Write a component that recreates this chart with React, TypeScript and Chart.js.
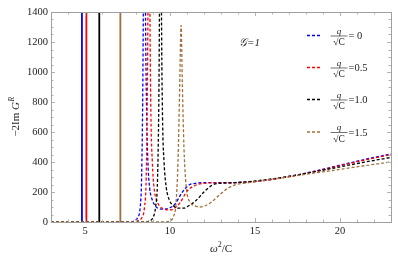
import React, { useEffect, useRef } from 'react';
import { Chart, registerables } from 'chart.js';
Chart.register(...registerables);

const seriesLabels = ['= 0', '=0.5', '=1.0', '=1.5'];
const seriesColors = ['#0000ff', '#ff0000', '#000000', '#a0703c'];
const spikeX = [4.82, 5.08, 5.84, 7.08];

const blueX = [3, 7.6, 7.9, 8.1, 8.25, 8.33, 8.4, 8.45, 8.5, 8.56, 8.63, 8.7, 8.8, 8.95, 9.15, 9.4, 9.7, 10.0, 10.3, 10.7, 11.1, 11.5, 12.0, 13.8, 23];
const blueY = [0, 1, 8, 30, 100, 300, 900, 1800, 3000, 1400, 700, 400, 230, 150, 105, 88, 85, 95, 120, 195, 245, 258, 262, 263, 453];

const redX = [3, 7.8, 8.1, 8.35, 8.5, 8.6, 8.67, 8.72, 8.76, 8.82, 8.88, 8.96, 9.06, 9.2, 9.4, 9.65, 9.95, 10.25, 10.6, 11.0, 11.5, 12.0, 12.5, 13.8, 23];
const redY = [0, 1, 8, 30, 100, 300, 900, 1800, 3000, 1400, 700, 400, 230, 150, 105, 87, 80, 90, 130, 205, 245, 258, 261, 262, 448];

const blackX = [3, 8.5, 8.8, 9.0, 9.15, 9.27, 9.35, 9.4, 9.45, 9.5, 9.56, 9.65, 9.78, 9.95, 10.2, 10.5, 10.8, 11.1, 11.5, 12.0, 12.4, 12.8, 13.8, 23];
const blackY = [0, 1, 8, 30, 100, 300, 900, 1800, 3000, 1400, 700, 400, 230, 150, 108, 92, 92, 108, 140, 200, 240, 257, 262, 430];

const brownX = [3, 9.7, 10.0, 10.2, 10.35, 10.47, 10.57, 10.65, 10.73, 10.82, 10.92, 11.0, 11.2, 11.45, 11.75, 12.0, 12.4, 12.9, 13.4, 13.9, 14.5, 23];
const brownY = [0, 1, 8, 35, 120, 400, 900, 1310, 900, 500, 280, 190, 130, 108, 100, 105, 130, 180, 225, 250, 260, 401];

const seriesX = [blueX, redX, blackX, brownX];
const seriesY = [blueY, redY, blackY, brownY];

const xTickValues = [5, 10, 15, 20];
const xMin = 3, xMax = 23, yMin = 0, yMax = 1400, yStep = 200;

const SERIF = '"Liberation Serif", "DejaVu Serif", serif';

const framePlugin = {
  id: 'frame',
  afterDraw(chart: any) {
    const { ctx, chartArea: a, scales } = chart;
    const xs = scales.x, ys = scales.y;
    ctx.save();
    // ticks
    ctx.strokeStyle = '#b4b4b4';
    ctx.lineWidth = 1;
    ctx.beginPath();
    for (let v = xMin; v <= xMax; v++) {
      const px = Math.round(xs.getPixelForValue(v)) + 0.5;
      const len = v % 5 === 0 ? 4 : 2.5;
      ctx.moveTo(px, a.bottom); ctx.lineTo(px, a.bottom - len);
      ctx.moveTo(px, a.top); ctx.lineTo(px, a.top + len);
    }
    for (let v = yMin; v <= yMax; v += 50) {
      const py = Math.round(ys.getPixelForValue(v)) + 0.5;
      const len = v % 200 === 0 ? 4 : 2.5;
      ctx.moveTo(a.left, py); ctx.lineTo(a.left + len, py);
      ctx.moveTo(a.right, py); ctx.lineTo(a.right - len, py);
    }
    ctx.stroke();
    // frame
    ctx.strokeStyle = '#a0a0a0';
    ctx.strokeRect(Math.round(a.left) + 0.5, Math.round(a.top) + 0.5, Math.round(a.right - a.left), Math.round(a.bottom - a.top));

    ctx.fillStyle = '#222';
    ctx.textBaseline = 'alphabetic';
    // x title: ω²/C
    {
      const f1 = `italic 11px ${SERIF}`, f2 = `8px ${SERIF}`, f3 = `11px ${SERIF}`;
      ctx.font = f1; const w1 = ctx.measureText('ω').width;
      ctx.font = f2; const w2 = ctx.measureText('2').width;
      ctx.font = f3; const w3 = ctx.measureText('/C').width;
      const tot = w1 + w2 + w3;
      let x = (a.left + a.right) / 2 - tot / 2;
      const by = 252;
      ctx.textAlign = 'left';
      ctx.font = f1; ctx.fillText('ω', x, by); x += w1;
      ctx.font = f2; ctx.fillText('2', x, by - 5); x += w2;
      ctx.font = f3; ctx.fillText('/C', x, by);
    }
    // y title: −2Im G^R
    {
      ctx.save();
      ctx.translate(19, (a.top + a.bottom) / 2);
      ctx.rotate(-Math.PI / 2);
      const f1 = `11px ${SERIF}`, f2 = `italic 11px ${SERIF}`, f3 = `italic 7.5px ${SERIF}`;
      ctx.font = f1; const w1 = ctx.measureText('−2Im ').width;
      ctx.font = f2; const w2 = ctx.measureText('G').width;
      ctx.font = f3; const w3 = ctx.measureText('R').width;
      let x = -(w1 + w2 + w3) / 2;
      ctx.textAlign = 'left';
      ctx.font = f1; ctx.fillText('−2Im ', x, 0); x += w1;
      ctx.font = f2; ctx.fillText('G', x, 0); x += w2;
      ctx.font = f3; ctx.fillText('R', x + 0.5, -5);
      ctx.restore();
    }
    // G=1 label
    ctx.font = `italic 11px ${SERIF}`;
    ctx.textAlign = 'left';
    ctx.fillText('𝒢=1', 239, 46);
    // legend
    const rows = [35.5, 67.5, 99.5, 132];
    rows.forEach((ry, i) => {
      ctx.strokeStyle = seriesColors[i];
      ctx.lineWidth = 1.3;
      ctx.setLineDash([3, 2]);
      ctx.beginPath(); ctx.moveTo(307, ry); ctx.lineTo(321, ry); ctx.stroke();
      ctx.setLineDash([]);
      ctx.fillStyle = '#222';
      ctx.textAlign = 'center';
      ctx.font = `italic 9px ${SERIF}`;
      ctx.fillText('q', 339, ry - 2);
      ctx.strokeStyle = '#333'; ctx.lineWidth = 0.7;
      ctx.beginPath(); ctx.moveTo(330.5, ry + 0.5); ctx.lineTo(347.5, ry + 0.5); ctx.stroke();
      ctx.font = `9.5px ${SERIF}`;
      ctx.fillText('√C', 339, ry + 9.5);
      ctx.textAlign = 'left';
      ctx.font = `10.5px ${SERIF}`;
      ctx.textBaseline = 'middle';
      ctx.fillText(seriesLabels[i], 348.5, ry + 1);
      ctx.textBaseline = 'alphabetic';
    });
    ctx.restore();
  },
};

export default function App() {
  const ref = useRef<HTMLCanvasElement>(null);
  useEffect(() => {
    const datasets: any[] = [];
    seriesX.forEach((xs, i) => {
      datasets.push({
        data: xs.map((x, j) => ({ x, y: seriesY[i][j] })),
        borderColor: seriesColors[i],
        borderWidth: 1.3,
        borderDash: [3, 2],
        pointRadius: 0,
        fill: false,
        cubicInterpolationMode: 'monotone',
        order: 10 - i,
      });
      datasets.push({
        data: [{ x: spikeX[i], y: yMin }, { x: spikeX[i], y: yMax * 3 }],
        borderColor: seriesColors[i],
        borderWidth: 1.8,
        pointRadius: 0,
        fill: false,
        order: 10 - i,
      });
    });
    const chart = new Chart(ref.current!, {
      type: 'line',
      data: { datasets },
      options: {
        animation: false,
        responsive: false,
        devicePixelRatio: 1,
        layout: { padding: { left: 0, top: 12, right: 7, bottom: 0 } },
        plugins: { legend: { display: false }, tooltip: { enabled: false } },
        scales: {
          x: {
            type: 'linear', min: xMin, max: xMax,
            grid: { display: false, drawTicks: false },
            border: { display: false },
            afterBuildTicks: (s: any) => { s.ticks = xTickValues.map((v) => ({ value: v })); },
            afterFit: (s: any) => { s.height = 41; },
            ticks: { padding: 3, color: '#222', font: { family: SERIF, size: 10.5 }, maxRotation: 0, callback: (v: any) => String(v) },
          },
          y: {
            type: 'linear', min: yMin, max: yMax,
            grid: { display: false, drawTicks: false },
            border: { display: false },
            afterFit: (s: any) => { s.width = 51; },
            ticks: { stepSize: yStep, padding: 3, color: '#222', font: { family: SERIF, size: 10.5 }, callback: (v: any) => String(v) },
          },
        },
      },
      plugins: [framePlugin],
    });
    return () => chart.destroy();
  }, []);
  return (
    <div style={{ position: 'absolute', left: 0, top: 0, width: 398, height: 263 }}>
      <canvas ref={ref} width={398} height={263} style={{ width: 398, height: 263, display: 'block' }} />
    </div>
  );
}
